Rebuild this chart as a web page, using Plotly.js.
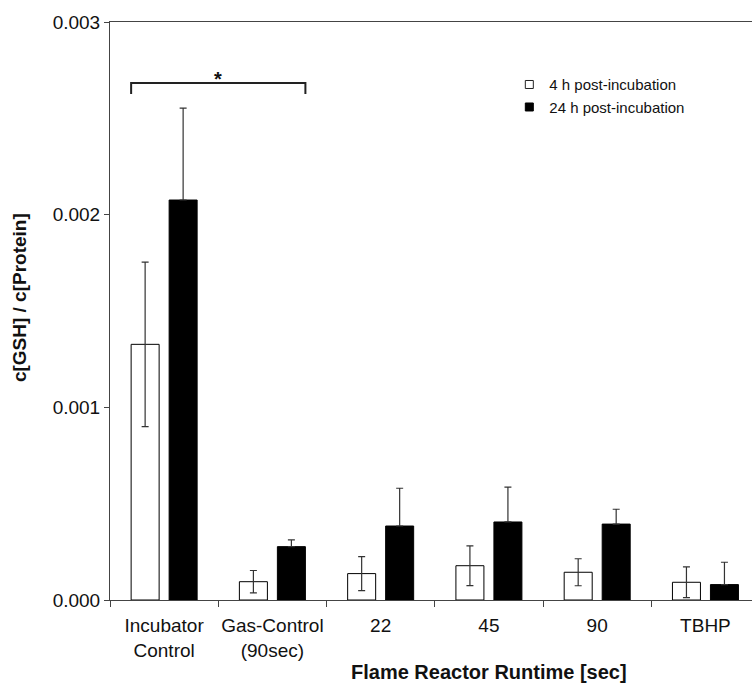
<!DOCTYPE html>
<html>
<head>
<meta charset="utf-8">
<script src="https://cdn.plot.ly/plotly-3.0.1.min.js"></script>
<style>
  html, body { margin: 0; padding: 0; background: #fff; }
  #chart { width: 752px; height: 686px; }
</style>
</head>
<body>
<div id="chart"></div>
<script>
// ---- data ----
const categories = ["Incubator<br>Control", "Gas-Control<br>(90sec)", "22", "45", "90", "TBHP"];
const series4hName = "4 h post-incubation";
const series24hName = "24 h post-incubation";
const values4h = [0.001327, 0.000095, 0.000137, 0.000178, 0.000144, 0.000092];
const errors4h = [0.000427, 0.000058, 0.000088, 0.000103, 0.000070, 0.000080];
const values24h = [0.002076, 0.000277, 0.000384, 0.000405, 0.000394, 0.000080];
const errors24h = [0.000477, 0.000035, 0.000196, 0.000181, 0.000077, 0.000116];
const yTickVals = [0, 0.001, 0.002, 0.003];
const yTickText = ["0.000", "0.001", "0.002", "0.003"];
const xTitle = "Flame Reactor Runtime [sec]";
const yTitle = "c[GSH] / c[Protein]";
const sigLabel = "*";

// ---- geometry (layout) ----
const bargap = 0.298, bargroupgap = 0.263;
const slot = (1 - bargap) / 2;
const barW = slot * (1 - bargroupgap);
const whiteLeft = 0 - slot / 2 - barW / 2;      // left edge of first white bar
const blackRight = 1 + slot / 2 + barW / 2;     // right edge of second black bar
const bracketTop = 0.002683, bracketFoot = 0.002626, starY = 0.002704;

const font = "Liberation Sans, Arial, Helvetica, sans-serif";

const traces = [
  {
    type: "bar", name: series4hName, x: categories, y: values4h,
    marker: { color: "#ffffff", line: { color: "#000", width: 1 } },
    error_y: { type: "data", array: errors4h, visible: true, color: "#333", thickness: 1.2, width: 3.5 },
    showlegend: false
  },
  {
    type: "bar", name: series24hName, x: categories, y: values24h,
    marker: { color: "#000000", line: { color: "#000", width: 1 } },
    // one-sided (upper) whiskers: the lower half is hidden inside the black bar in the reference
    error_y: { type: "data", symmetric: false, array: errors24h, arrayminus: errors24h.map(() => 0),
               visible: true, color: "#333", thickness: 1.2, width: 3.5 },
    showlegend: false
  },
  {
    type: "scatter", mode: "markers", name: series4hName, x: [null], y: [null],
    marker: { symbol: "square", size: 8, color: "#fff", line: { color: "#222", width: 1 } },
    hoverinfo: "skip"
  },
  {
    type: "scatter", mode: "markers", name: series24hName, x: [null], y: [null],
    marker: { symbol: "square", size: 8, color: "#000", line: { color: "#000", width: 1 } },
    hoverinfo: "skip"
  }
];

const layout = {
  width: 752, height: 686,
  margin: { l: 110, r: 0, t: 22, b: 86 },
  paper_bgcolor: "#fff", plot_bgcolor: "#fff",
  font: { family: font, color: "#111", size: 19 },
  barmode: "group", bargap: bargap, bargroupgap: bargroupgap,
  showlegend: true,
  legend: {
    x: 0.622, xanchor: "left", y: 0.92, yanchor: "top",
    bgcolor: "rgba(0,0,0,0)", font: { family: font, size: 15, color: "#111" },
    tracegroupgap: 0, itemwidth: 30
  },
  xaxis: {
    type: "category", range: [-0.5, 5.43],
    showline: true, linecolor: "#444", linewidth: 1, mirror: true,
    ticks: "outside", ticklen: 6, tickcolor: "#444", tickwidth: 1,
    tickson: "boundaries", tickangle: 0, ticklabelstandoff: 8,
    showgrid: false, zeroline: false,
    tickfont: { family: font, size: 19, color: "#111" }
  },
  yaxis: {
    range: [0, 0.003], tickvals: yTickVals, ticktext: yTickText,
    showline: true, linecolor: "#444", linewidth: 1,
    ticks: "outside", ticklen: 5, tickcolor: "#444", tickwidth: 1,
    showgrid: false, zeroline: false,
    tickfont: { family: font, size: 19, color: "#111" }
  },
  shapes: [
    {
      type: "path", xref: "x", yref: "y",
      path: "M " + whiteLeft + "," + bracketFoot + " L " + whiteLeft + "," + bracketTop +
            " L " + blackRight + "," + bracketTop + " L " + blackRight + "," + bracketFoot,
      line: { color: "#222", width: 2 }
    }
  ],
  annotations: [
    {
      x: (whiteLeft + blackRight) / 2, y: starY, xref: "x", yref: "y",
      text: "<b>" + sigLabel + "</b>", showarrow: false, yanchor: "middle",
      font: { family: font, size: 20, color: "#111" }
    },
    {
      x: 0.5896, y: -0.1246, xref: "paper", yref: "paper",
      text: "<b>" + xTitle + "</b>", showarrow: false, xanchor: "center", yanchor: "middle",
      font: { family: font, size: 20, color: "#111" }
    },
    {
      x: -0.140, y: 0.5225, xref: "paper", yref: "paper", textangle: -90,
      text: "<b>" + yTitle + "</b>", showarrow: false, xanchor: "center", yanchor: "middle",
      font: { family: font, size: 19, color: "#111" }
    }
  ]
};

Plotly.newPlot("chart", traces, layout, { displayModeBar: false, staticPlot: true });
</script>
</body>
</html>
